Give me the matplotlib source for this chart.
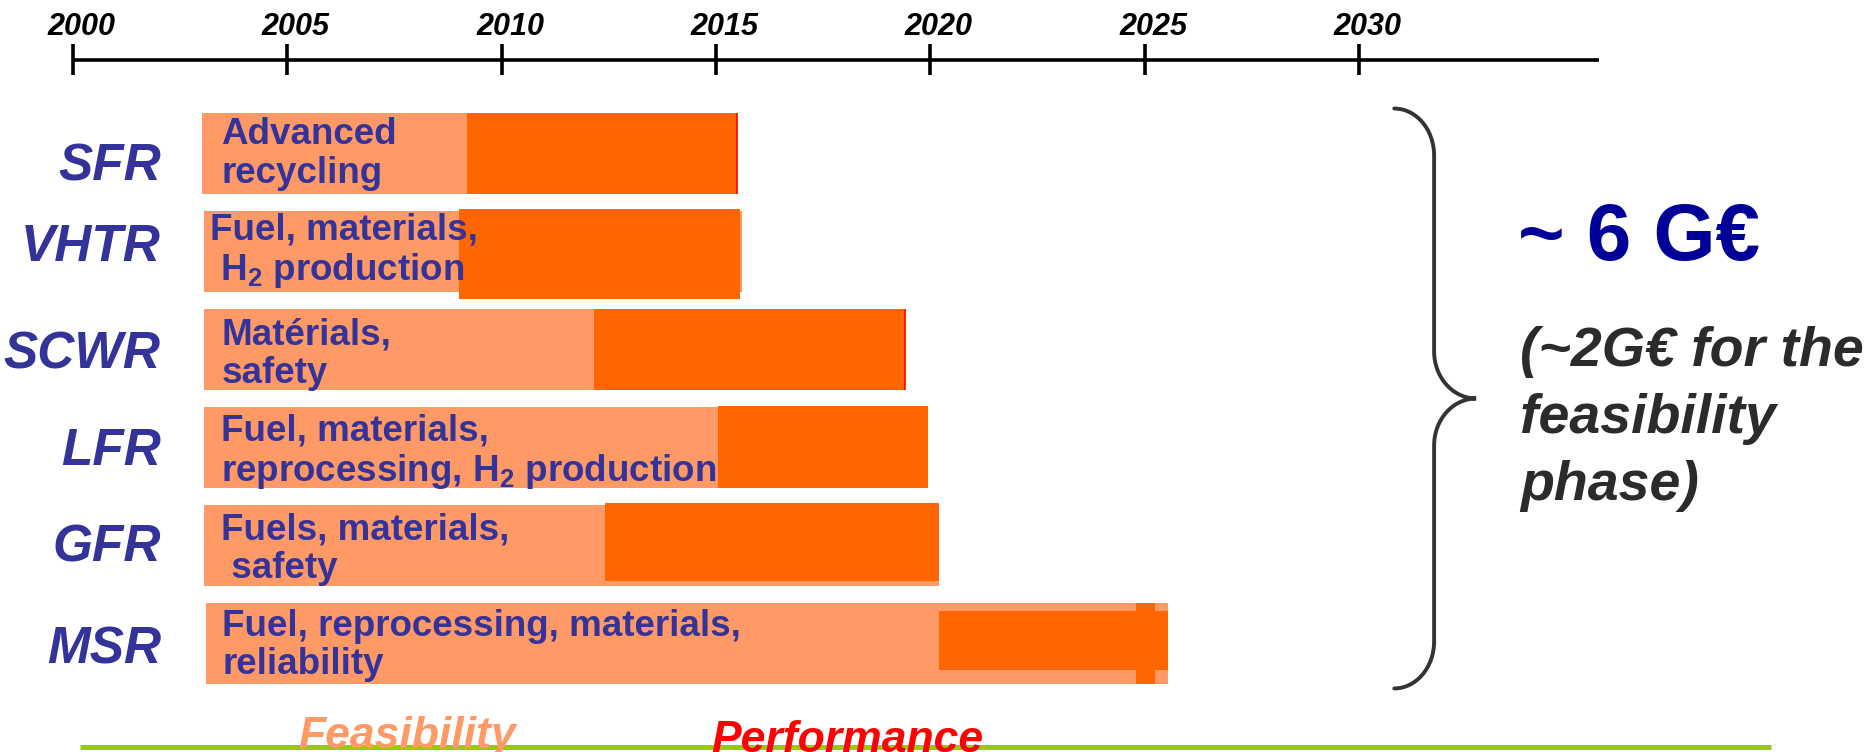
import numpy as np
import matplotlib
matplotlib.use("Agg")
import matplotlib.pyplot as plt
from matplotlib.path import Path
from matplotlib.patches import PathPatch

plt.rcParams['font.family'] = ['Liberation Sans', 'DejaVu Sans']
plt.rcParams['mathtext.default'] = 'regular'

# Systèmes Génération IV et thèmes de R&D
systems = ['SFR', 'VHTR', 'SCWR', 'LFR', 'GFR', 'MSR']
topics = ['Advanced\nrecycling',
          'Fuel, materials,\n H$_2$ production',
          'Matérials,\nsafety',
          'Fuel, materials,\nreprocessing, H$_2$ production',
          'Fuels, materials,\n safety',
          'Fuel, reprocessing, materials,\nreliability']

# phase de faisabilité (clair) puis performance (foncé), en années
feas_start = [2003.0, 2003.05, 2003.05, 2003.05, 2003.05, 2003.1]
feas_end = [2009.2, 2015.6, 2019.4, 2019.6, 2020.2, 2025.55]
perf_start = [2009.2, 2009.0, 2012.15, 2015.05, 2012.4, 2020.2]
perf_end = [2015.5, 2015.55, 2019.4, 2019.95, 2020.2, 2025.55]
msr_mark = (2024.8, 2025.25)

years = [2000, 2005, 2010, 2015, 2020, 2025, 2030]
timeline_end = 2035.6

budget = '~ 6 G€'
budget_note = '(~2G€ for the\nfeasibility\nphase)'

C_FEAS = '#FF9966'
C_PERF = '#FF6600'
C_TXT = '#333399'

# mise en page (unités : années en x, lignes en y)
bar_h = 0.83
perf_top = [-0.415, -0.43, -0.415, -0.42, -0.43, -0.33]
perf_h = [0.83, 0.915, 0.83, 0.83, 0.79, 0.6]
text_x = [2003.46, 2003.2, 2003.46, 2003.46, 2003.46, 2003.48]
text_dy = [-0.095, -0.10, -0.05, -0.045, -0.06, -0.075]
label_dy = [0.278, 0.10, 0.199, 0.183, 0.164, 0.205]
line_step = 0.391      # interligne du texte dans les barres
note_step = 0.694      # interligne de la note à droite

fig = plt.figure(figsize=(18.74, 7.52), dpi=100)
ax = fig.add_axes([0, 0, 1, 1])
ax.set_xlim(1998.30, 2042.01)
ax.set_ylim(6.109, -1.568)
ax.axis('off')

rows = np.arange(len(systems))

# barres
ax.barh(rows, np.subtract(feas_end, feas_start), left=feas_start,
        height=bar_h, color=C_FEAS, lw=0)
ax.barh(rows + np.array(perf_top), np.subtract(perf_end, perf_start),
        left=perf_start, height=perf_h, align='edge', color=C_PERF, lw=0)
ax.barh(rows[-1], msr_mark[1] - msr_mark[0], left=msr_mark[0],
        height=bar_h, color=C_PERF, lw=0)
for i in (0, 2):
    ax.vlines(perf_end[i], rows[i] + perf_top[i],
              rows[i] + perf_top[i] + perf_h[i], color='#FF0000', lw=1.2)

for i, (name, topic) in enumerate(zip(systems, topics)):
    ax.text(2002.05, rows[i] + label_dy[i], name, ha='right', va='baseline',
            fontsize=37, fontweight='bold', fontstyle='italic', color=C_TXT)
    # va='baseline' cale la dernière ligne : on décale d'autant de lignes
    nlines = topic.count('\n')
    ax.text(text_x[i], rows[i] + text_dy[i] + nlines * line_step, topic,
            ha='left', va='baseline', fontsize=26.5, fontweight='bold',
            color=C_TXT, linespacing=1.12)

# frise chronologique en haut
ty = -0.955
ax.plot([years[0], timeline_end], [ty, ty], color='black', lw=2.6,
        solid_capstyle='butt')
ax.vlines(years, ty - 0.166, ty + 0.155, color='black', lw=2.6)
for yr in years:
    ax.text(yr + 0.2, -1.211, str(yr), ha='center', va='baseline', fontsize=22,
            fontweight='bold', fontstyle='italic', color='black')

# accolade
top, bot = rows[0] - 0.46, rows[-1] + 0.46
mid = (top + bot) / 2
xa, xm, xt = 2030.82, 2031.75, 2032.73
r = 0.48
k = 0.552
verts = [(xa, top),
         (xa + k * (xm - xa), top), (xm, top + r - k * r), (xm, top + r),
         (xm, mid - r),
         (xm, mid - r + k * r), (xt - k * (xt - xm), mid), (xt, mid),
         (xt - k * (xt - xm), mid), (xm, mid + r - k * r), (xm, mid + r),
         (xm, bot - r),
         (xm, bot - r + k * r), (xa + k * (xm - xa), bot), (xa, bot)]
codes = ([Path.MOVETO] + [Path.CURVE4] * 3 + [Path.LINETO] + [Path.CURVE4] * 6
         + [Path.LINETO] + [Path.CURVE4] * 3)
ax.add_patch(PathPatch(Path(verts, codes), fill=False, ec='#333333', lw=2.8,
                       capstyle='round'))

ax.text(2033.7, 1.086, budget, ha='left', va='baseline', fontsize=57.5,
        fontweight='bold', color='#000099')
ax.text(2033.76, 2.145 + budget_note.count('\n') * note_step, budget_note,
        ha='left', va='baseline', fontsize=40, fontweight='bold',
        fontstyle='italic', color='#2b2b2b', linespacing=1.37)

# légende en bas
ax.plot([2000.17, 2039.6], [6.06, 6.06], color='#99CC00', lw=3.6,
        solid_capstyle='butt', zorder=1)
ax.text(2005.25, 6.07, 'Feasibility', ha='left', va='baseline', fontsize=32,
        fontweight='bold', fontstyle='italic', color=C_FEAS, zorder=3)
ax.text(2014.9, 6.11, 'Performance', ha='left', va='baseline', fontsize=32,
        fontweight='bold', fontstyle='italic', color='#FF0000', zorder=3)

fig.savefig('out.png', dpi=100)
